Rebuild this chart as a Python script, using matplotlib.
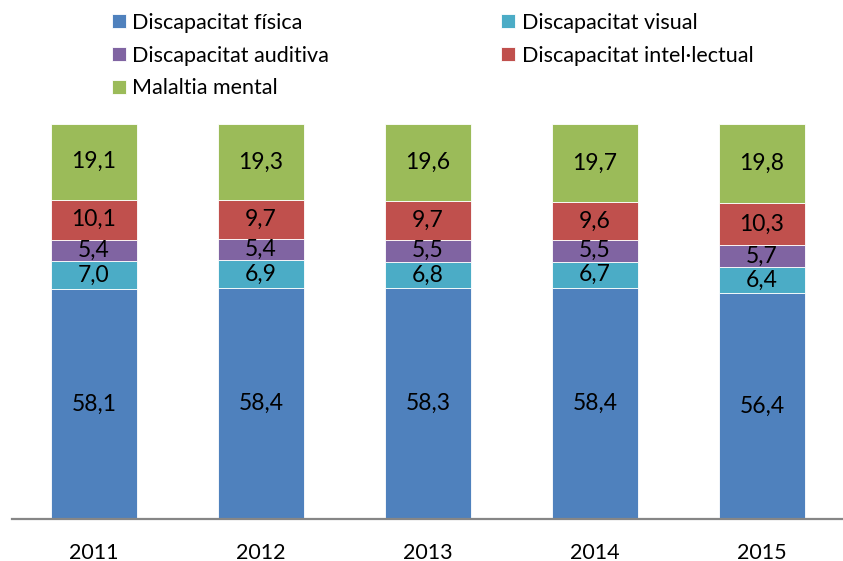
import matplotlib
matplotlib.use("Agg")
import matplotlib.pyplot as plt
import numpy as np

years = ["2011", "2012", "2013", "2014", "2015"]
categories = ["Discapacitat física", "Discapacitat visual", "Discapacitat auditiva",
              "Discapacitat intel·lectual", "Malaltia mental"]
fisica = [58.1, 58.4, 58.3, 58.4, 56.4]
visual = [7.0, 6.9, 6.8, 6.7, 6.4]
auditiva = [5.4, 5.4, 5.5, 5.5, 5.7]
intel = [10.1, 9.7, 9.7, 9.6, 10.3]
mental = [19.1, 19.3, 19.6, 19.7, 19.8]
series = [fisica, visual, auditiva, intel, mental]
colors = ["#4F81BD", "#4BACC6", "#8064A2", "#C0504D", "#9BBB59"]

plt.rcParams['font.family'] = ['Lato', 'DejaVu Sans']

W, H = 843, 561
fig = plt.figure(figsize=(W / 100, H / 100), dpi=100)
ax = fig.add_axes([12 / W, (H - 519) / H, (843 - 12) / W, (519 - 124) / H])

data = np.array(series)
totals = data.sum(axis=0)
pct = data / totals * 100
x = np.arange(len(years))
bottom = np.zeros(len(years))
handles = []
for vals, raw, col, name in zip(pct, data, colors, categories):
    b = ax.bar(x, vals, 0.515, bottom=bottom, color=col, edgecolor="white",
               linewidth=0.6, label=name)
    handles.append(b)
    for xi, v, bt, r in zip(x, vals, bottom, raw):
        ax.text(xi, bt + v / 2, f"{r:.1f}".replace(".", ","), ha="center",
                va="center", fontsize=16.5, color="black")
    bottom += vals

ax.set_xlim((12 - 94) / 167, (843 - 94) / 167)
ax.set_ylim(0, 100)
for s in ["top", "right", "left"]:
    ax.spines[s].set_visible(False)
ax.spines["bottom"].set_color("#868686")
ax.spines["bottom"].set_linewidth(1.6)
ax.set_yticks([])
ax.set_xticks(x)
ax.set_xticklabels(years, fontsize=15.5)
ax.tick_params(axis="x", length=0, pad=17)

order = [0, 2, 4, 1, 3]
fig.legend([handles[i] for i in order], [categories[i] for i in order],
           loc="upper left", bbox_to_anchor=(103 / W, 1 - 4 / H), ncol=2,
           frameon=False, fontsize=15.5, handlelength=0.65, handleheight=0.65,
           handletextpad=0.3, columnspacing=8.0, labelspacing=0.6,
           borderaxespad=0)

fig.savefig("out.png", dpi=100)
